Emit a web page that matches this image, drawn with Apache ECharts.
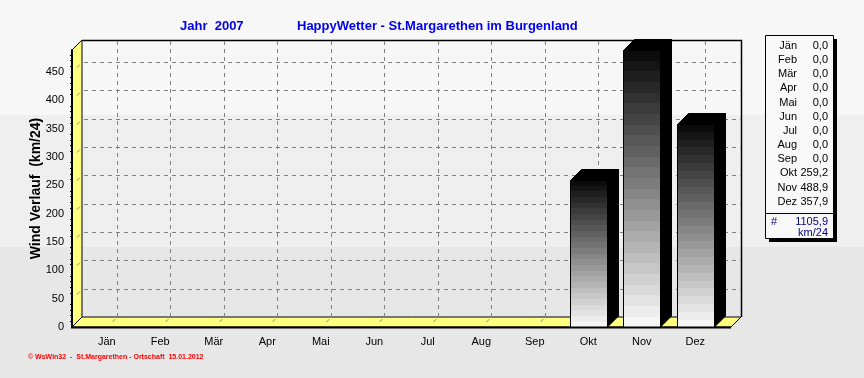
<!DOCTYPE html>
<html>
<head>
<meta charset="utf-8">
<script src="https://cdn.jsdelivr.net/npm/echarts@6/dist/echarts.min.js"></script>
<style>
html, body { margin: 0; padding: 0; }
#main { width: 864px; height: 378px; }
</style>
</head>
<body>
<div id="main"></div>
<script>
var months = ['Jän', 'Feb', 'Mär', 'Apr', 'Mai', 'Jun', 'Jul', 'Aug', 'Sep', 'Okt', 'Nov', 'Dez'];
var windValues = [0, 0, 0, 0, 0, 0, 0, 0, 0, 259.2, 488.9, 357.9];
var yearTotal = 1105.9;
var yGridValues = [50, 100, 150, 200, 250, 300, 350, 400, 450];
var yearTitle = 'Jahr  2007';
var chartTitle = 'HappyWetter - St.Margarethen im Burgenland';
var yAxisTitle = 'Wind Verlauf  (km/24)';
var unitText = 'km/24';
var footerText = '© WsWin32  -  St.Margarethen - Ortschaft  15.01.2012';

var FONT = '"Liberation Sans", Arial, sans-serif';
var DEPTH = 10;       // Tiefe der Wände
var BAR_DEPTH = 11;   // Tiefe der Säulen
var PAD_L = 8, PAD_R = 9;
var YELLOW = '#ffff80';
var yMax = Math.max.apply(null, windValues);

function fmt(v) {
	return v.toFixed(1).replace('.', ',');
}

// stufiger Verlauf schwarz -> weiß
var barStops = [];
var steps = 26;
for (var k = 0; k < steps; k++) {
	var c = Math.round(12 + (246 - 12) * k / (steps - 1));
	var col = 'rgb(' + c + ',' + c + ',' + c + ')';
	barStops.push({ offset: k / steps, color: col });
	barStops.push({ offset: (k + 1) / steps, color: col });
}

function renderFrame(params, api) {
	var cs = params.coordSys;
	var x0 = cs.x - PAD_L, x1 = cs.x + cs.width + PAD_R;
	var yT = cs.y, yB = cs.y + cs.height, d = DEPTH;
	return {
		type: 'group',
		children: [
			{ type: 'polygon', shape: { points: [[x0, yT], [x0 + d, yT - d], [x0 + d, yB - d], [x0, yB]] },
				style: { fill: YELLOW, stroke: '#000', lineWidth: 1 } },
			{ type: 'polygon', shape: { points: [[x0, yB], [x0 + d, yB - d], [x1 + d, yB - d], [x1, yB]] },
				style: { fill: YELLOW, stroke: '#000', lineWidth: 1 } },
			{ type: 'polyline', shape: { points: [[x0 + d, yT - d + 0.5], [x1 + d + 0.5, yT - d + 0.5], [x1 + d + 0.5, yB - d]] },
				style: { fill: 'none', stroke: '#000', lineWidth: 1.5 } },
			{ type: 'line', shape: { x1: x0 - 1, y1: yB + 0.5, x2: x1, y2: yB + 0.5 },
				style: { stroke: '#000', lineWidth: 2 } }
		]
	};
}

function renderHGrid(params, api) {
	var cs = params.coordSys;
	var y = Math.round(api.coord([0, api.value(1)])[1]) + 0.5;
	var x0 = cs.x - PAD_L, x1 = cs.x + cs.width + PAD_R, d = DEPTH;
	var st = { stroke: '#808080', lineWidth: 1, lineDash: [4, 4] };
	return {
		type: 'group',
		children: [
			{ type: 'line', shape: { x1: x0 + d + 2, y1: y - d, x2: x1 + d, y2: y - d }, style: st },
			{ type: 'line', shape: { x1: x0 + 5, y1: y - 5, x2: x0 + d - 1, y2: y - d + 1 }, style: st }
		]
	};
}

function renderVGrid(params, api) {
	var cs = params.coordSys;
	var x = Math.round(api.coord([api.value(0), 0])[0]) + 0.5;
	var yT = cs.y, yB = cs.y + cs.height, d = DEPTH;
	var st = { stroke: '#808080', lineWidth: 1, lineDash: [4, 4] };
	return {
		type: 'group',
		children: [
			{ type: 'line', shape: { x1: x + d, y1: yT - d + 1, x2: x + d, y2: yB - d }, style: st },
			{ type: 'line', shape: { x1: x + 5, y1: yB - 5, x2: x + d - 1, y2: yB - d + 1 }, style: st }
		]
	};
}

function renderBar(params, api) {
	var v = api.value(1);
	if (!(v > 0)) return;
	var top = api.coord([api.value(0), v]);
	var base = api.coord([api.value(0), 0]);
	var w = Math.round(api.size([1, 0])[0] * 0.69);
	var xa = Math.round(top[0] - w / 2) + 0.5, xb = xa + w;
	var yt = Math.round(top[1]) + 0.5, yb = Math.round(base[1]);
	var d = BAR_DEPTH;
	return {
		type: 'group',
		children: [
			{ type: 'polygon', shape: { points: [[xb, yt], [xb + d, yt - d], [xb + d, yb - d], [xb, yb]] },
				style: { fill: '#000', stroke: '#000' } },
			{ type: 'polygon', shape: { points: [[xa, yt], [xa + d, yt - d], [xb + d, yt - d], [xb, yt]] },
				style: { fill: '#000', stroke: '#000' } },
			{ type: 'rect', shape: { x: xa, y: yt, width: w, height: yb - yt },
				style: { fill: new echarts.graphic.LinearGradient(0, 0, 0, 1, barStops), stroke: '#000', lineWidth: 1 } }
		]
	};
}

// Wertetabelle rechts
var boxX = 765, boxY = 35, boxW = 68, boxH = 203;
var rowTop = 46, rowStep = 14.15;
function txt(x, y, s, color, align) {
	return {
		type: 'text', x: x, y: y,
		style: { text: s, font: '11px ' + FONT, fill: color, align: align, textAlign: align,
			verticalAlign: 'middle', textVerticalAlign: 'middle' }
	};
}
var boxEls = [
	{ type: 'rect', shape: { x: boxX + 4, y: boxY + 4, width: boxW, height: boxH }, style: { fill: '#000' } },
	{ type: 'rect', shape: { x: boxX + 0.5, y: boxY + 0.5, width: boxW, height: boxH }, style: { fill: '#f8f8f8', stroke: '#000', lineWidth: 1 } },
	{ type: 'line', shape: { x1: boxX, y1: 213.5, x2: boxX + boxW, y2: 213.5 }, style: { stroke: '#000', lineWidth: 1 } }
];
months.forEach(function (m, i) {
	boxEls.push(txt(797, rowTop + i * rowStep, m, '#000', 'right'));
	boxEls.push(txt(828, rowTop + i * rowStep, fmt(windValues[i]), '#000', 'right'));
});
boxEls.push(txt(771, 222, '#', '#000080', 'left'));
boxEls.push(txt(828, 222, fmt(yearTotal), '#000080', 'right'));
boxEls.push(txt(828, 232.5, unitText, '#000080', 'right'));

var chart = echarts.init(document.getElementById('main'));
var option = {
	animation: false,
	textStyle: { fontFamily: FONT },
	graphic: {
		elements: [
			{ type: 'rect', z: -10, shape: { x: 0, y: 0, width: 864, height: 115 }, style: { fill: '#f7f7f7' } },
			{ type: 'rect', z: -10, shape: { x: 0, y: 115, width: 864, height: 132 }, style: { fill: '#efefef' } },
			{ type: 'rect', z: -10, shape: { x: 0, y: 247, width: 864, height: 131 }, style: { fill: '#e7e7e7' } },
			{ type: 'text', x: 180, y: 26, style: { text: yearTitle, font: 'bold 13px ' + FONT, fill: '#0000ee', verticalAlign: 'middle', textVerticalAlign: 'middle' } },
			{ type: 'text', x: 297, y: 26, style: { text: chartTitle, font: 'bold 13px ' + FONT, fill: '#0000ee', verticalAlign: 'middle', textVerticalAlign: 'middle' } },
			{ type: 'text', x: 28, y: 357.5, style: { text: footerText, font: 'bold 7px ' + FONT, fill: '#ff0000', verticalAlign: 'middle', textVerticalAlign: 'middle' } }
		].concat(boxEls)
	},
	grid: { left: 80, right: 142, top: 50, bottom: 51, containLabel: false },
	xAxis: [
		{
			type: 'category', data: months, position: 'bottom', z: 5,
			axisLine: { show: false },
			axisTick: { alignWithLabel: true, length: 4, lineStyle: { color: '#000' } },
			axisLabel: { color: '#000', fontSize: 11, margin: 9 },
			splitLine: { show: false }
		},
		{
			type: 'category', data: months, position: 'bottom', z: 5,
			axisLine: { show: false },
			axisTick: { length: 4, lineStyle: { color: '#000' } },
			axisLabel: { show: false },
			splitLine: { show: false }
		}
	],
	yAxis: {
		type: 'value', min: 0, max: yMax, interval: 50, offset: 8, z: 5,
		name: yAxisTitle, nameLocation: 'middle', nameGap: 29, nameMoveOverlap: false,
		nameTextStyle: { fontSize: 14, fontWeight: 'bold', color: '#000' },
		axisLine: { show: true, lineStyle: { color: '#000', width: 2 } },
		axisTick: { length: 4, lineStyle: { color: '#000' } },
		minorTick: { show: true, splitNumber: 5, length: 2, lineStyle: { color: '#000' } },
		axisLabel: { color: '#000', fontSize: 11, margin: 8, showMaxLabel: false },
		splitLine: { show: false }
	},
	series: [
		{ type: 'custom', z: 1, silent: true, renderItem: renderFrame, data: [[0, 0]] },
		{ type: 'custom', z: 2, silent: true, renderItem: renderHGrid, data: yGridValues.map(function (v) { return [0, v]; }) },
		{ type: 'custom', z: 2, silent: true, renderItem: renderVGrid, data: months.map(function (m, i) { return [i, 0]; }) },
		{ type: 'custom', z: 3, name: 'Wind', renderItem: renderBar, data: windValues.map(function (v, i) { return [i, v]; }) }
	]
};
chart.setOption(option);
</script>
</body>
</html>
